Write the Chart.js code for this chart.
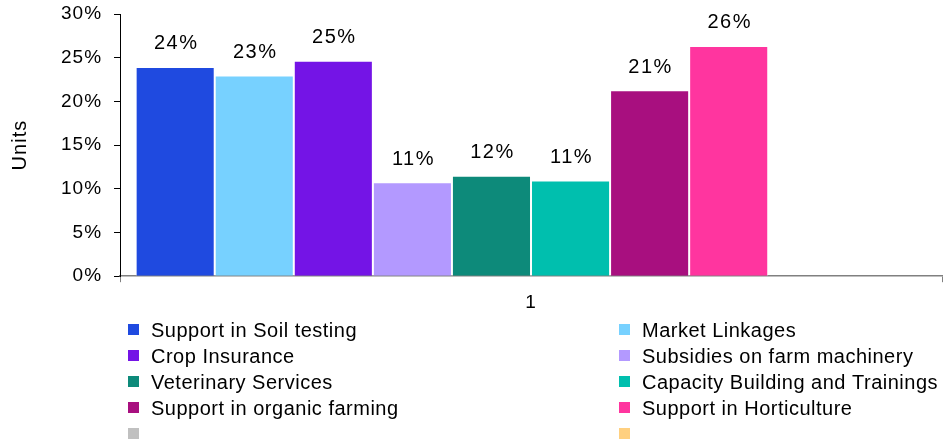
<!DOCTYPE html>
<html>
<head>
<meta charset="utf-8">
<script src="https://cdn.jsdelivr.net/npm/chart.js@4"></script>
<style>
html,body{margin:0;padding:0;background:#fff;}
#wrap{position:relative;width:943px;height:442px;}
</style>
</head>
<body>
<div id="wrap"><canvas id="c"></canvas></div>
<script>
const categories = ["1"];
const seriesNames = [
  "Support in Soil testing",
  "Market Linkages",
  "Crop Insurance",
  "Subsidies on farm machinery",
  "Veterinary Services",
  "Capacity Building and Trainings",
  "Support in organic farming",
  "Support in Horticulture",
  "",
  ""
];
const seriesValues = [23.95, 22.96, 24.65, 10.75, 11.5, 10.95, 21.27, 26.35, 0, 0];
const seriesColors = ["#1F4AE0","#77D1FF","#7414E6","#B399FF","#0D8A7A","#00BFAE","#A80F7F","#FF359F","#C0C0C0","#FFD080"];
const yTicks = [0,5,10,15,20,25,30];
const yTitle = "Units";
const FONT = "'Liberation Sans', Arial, sans-serif";

const datasets = seriesNames.map((n,i)=>({
  label: n,
  data: [seriesValues[i]],
  backgroundColor: seriesColors[i],
  borderColor: 'rgba(255,255,255,0.55)',
  borderWidth: 1,
  barPercentage: 1,
  categoryPercentage: 0.962
}));

const spacing = {
  id: 'spacing',
  beforeUpdate(chart){ chart.ctx.letterSpacing = '1px'; },
  beforeLayout(chart){ chart.ctx.letterSpacing = '1px'; },
  beforeDraw(chart){ chart.ctx.letterSpacing = '1px'; }
};

const valueLabels = {
  id: 'valueLabels',
  afterDatasetsDraw(chart){
    const ctx = chart.ctx;
    ctx.save();
    ctx.font = "20px " + FONT;
    ctx.letterSpacing = '1.5px';
    ctx.fillStyle = "#000";
    ctx.textAlign = "center";
    ctx.textBaseline = "middle";
    chart.data.datasets.forEach((ds,i)=>{
      if(!ds.label) return;
      const meta = chart.getDatasetMeta(i);
      meta.data.forEach((bar,j)=>{
        const v = ds.data[j];
        ctx.fillText(Math.round(v) + "%", bar.x + 1, bar.y - 23);
      });
    });
    ctx.restore();
  }
};

const gridLegend = {
  id: 'gridLegend',
  afterDraw(chart){
    const ctx = chart.ctx;
    ctx.save();
    ctx.font = "20px " + FONT;
    ctx.letterSpacing = '0.5px';
    ctx.textBaseline = "middle";
    ctx.textAlign = "left";
    const colX = [128, 619];
    const y0 = 330, dy = 26;
    chart.data.datasets.forEach((ds,i)=>{
      const col = i % 2, row = Math.floor(i/2);
      const x = colX[col], y = y0 + row*dy;
      ctx.fillStyle = ds.backgroundColor;
      ctx.fillRect(x, y-6, 11, 11);
      ctx.fillStyle = "#000";
      ctx.fillText(ds.label, x + 23, y + 1);
    });
    ctx.restore();
  }
};

new Chart(document.getElementById('c'), {
  type: 'bar',
  data: { labels: categories, datasets },
  options: {
    responsive: true,
    maintainAspectRatio: false,
    animation: false,
    layout: { padding: { top: 14, right: 1, bottom: 119, left: 8 } },
    plugins: { legend: { display: false }, tooltip: { enabled: false } },
    scales: {
      x: {
        grid: { display: true, drawOnChartArea: false, drawTicks: true, tickLength: 6, color: '#808080', offset: true },
        border: { display: true, color: '#808080', width: 1.5 },
        ticks: { color: '#000', font: { family: FONT, size: 19 }, padding: 9 }
      },
      y: {
        min: 0, max: 30,
        afterBuildTicks(axis){ axis.ticks = yTicks.map(v=>({value:v})); },
        afterFit(axis){ axis.paddingTop = 0; axis.paddingBottom = 0; },
        grid: { display: true, drawOnChartArea: false, drawTicks: true, tickLength: 6, color: '#000' },
        border: { display: true, color: '#000', width: 1 },
        ticks: { color: '#000', font: { family: FONT, size: 19 }, padding: 12, callback: v => v + "%" },
        title: { display: true, text: yTitle, color: '#000', font: { family: FONT, size: 20 }, padding: { top: 0, bottom: 17 } }
      }
    }
  },
  plugins: [spacing, valueLabels, gridLegend]
});
</script>
</body>
</html>
